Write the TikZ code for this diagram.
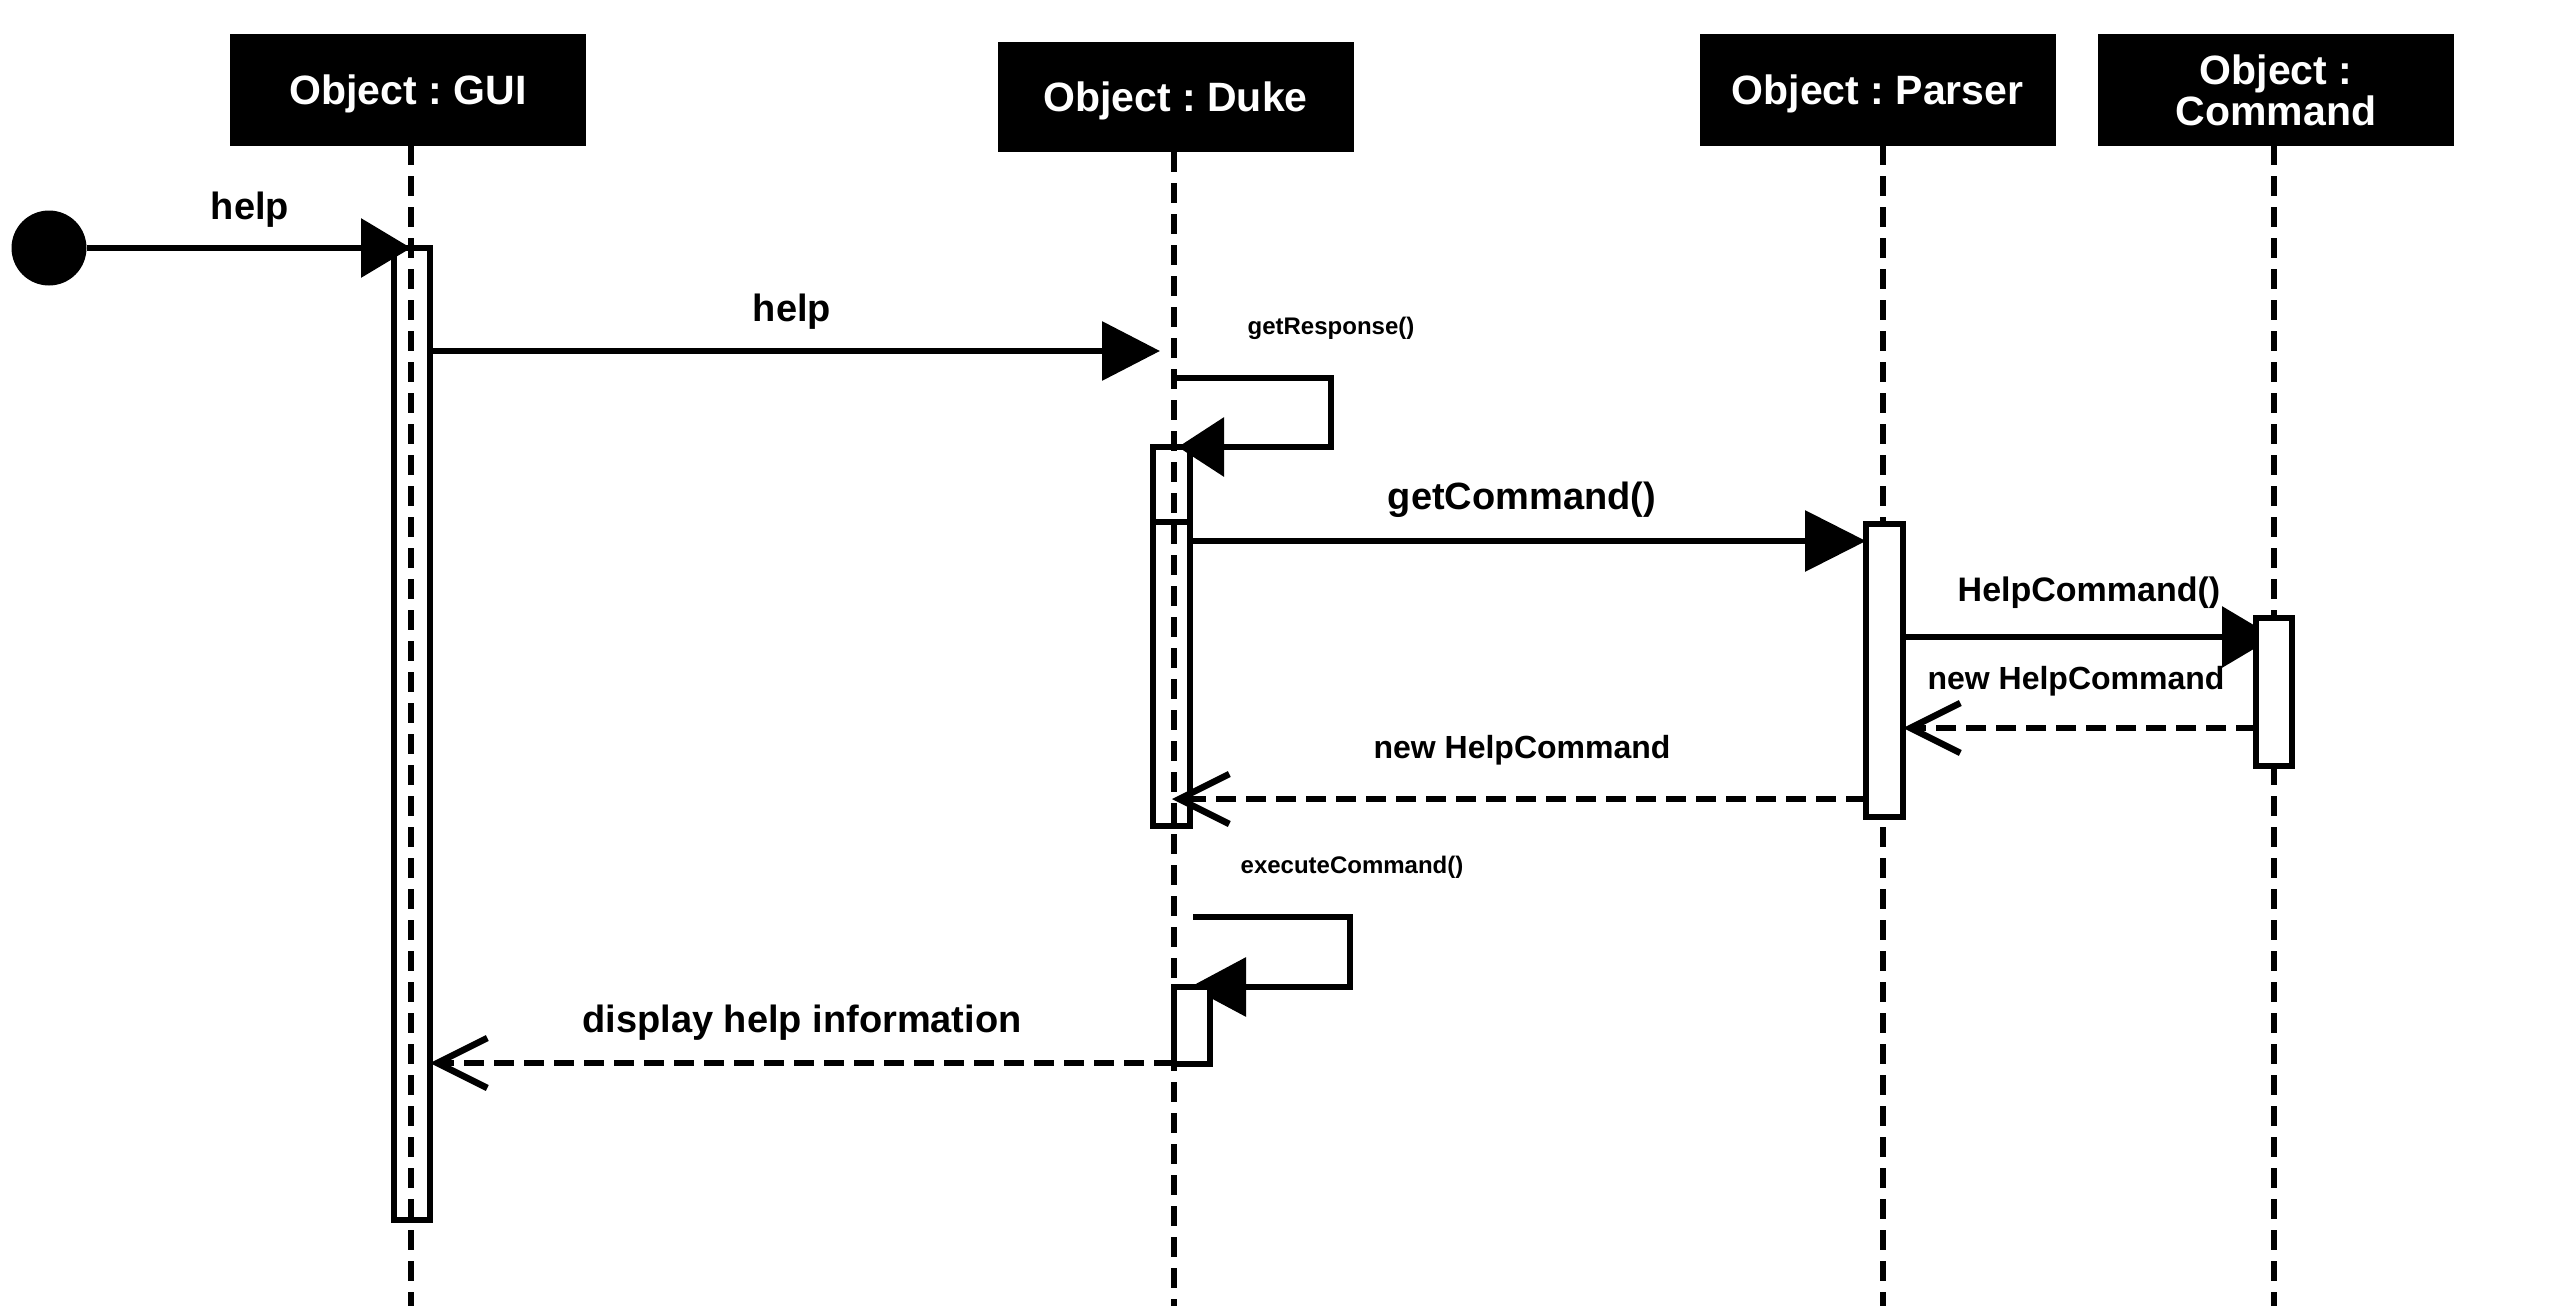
\documentclass[tikz,border=0pt]{standalone}
\usepackage{fontspec}
\setmainfont{Liberation Sans}
\usetikzlibrary{arrows.meta}
\frenchspacing
\begin{document}
\begin{tikzpicture}[x=1pt,y=-1pt,
  header/.style={fill=black, text=white, font=\fontsize{41}{42}\selectfont\bfseries, minimum width=356pt, minimum height=111pt, inner sep=0pt, align=center},
  lifeline/.style={line width=6.5pt, dash pattern=on 20pt off 11pt},
  actbox/.style={draw, line width=6.5pt, inner sep=0pt},
  actfill/.style={actbox, fill=white},
  ret/.style={line width=6.5pt, dash pattern=on 20pt off 10pt, -{Straight Barb[length=50pt,width=50pt]}},
  lbl/.style={inner sep=0pt, yshift=-3pt, font=\fontsize{38}{40}\selectfont\bfseries},
  smalllbl/.style={inner sep=0pt, yshift=-1pt, font=\fontsize{24}{26}\selectfont\bfseries},
  call/.style={line width=6.5pt},
]
\fill[white] (0,0) rectangle (2560,1306);
\useasboundingbox (0,0) rectangle (2560,1306);

% headers
\node[header] (gui) at (408,90) {};
\node[text=white, inner sep=0pt, yshift=-4pt, font=\fontsize{41}{42}\selectfont\bfseries] (guit) at (gui) {Object : GUI};
\node[header, minimum height=110pt] (duke) at (1175.5,97) {};
\node[text=white, inner sep=0pt, yshift=-4pt, font=\fontsize{41}{42}\selectfont\bfseries] (duket) at (duke) {Object : Duke};
\node[header] (parser) at (1877.5,90) {};
\node[text=white, inner sep=0pt, yshift=-4pt, font=\fontsize{41}{42}\selectfont\bfseries] (parsert) at (parser) {Object : Parser};
\node[header] (command) at (2276,90) {Object :\\[-1pt]Command};

% lifeline ends
\coordinate (guitop) at (411,145);   \coordinate (guibot) at (411,1306);
\coordinate (duketop) at (1174,152); \coordinate (dukebot) at (1174,1306);
\coordinate (partop) at (1883,145);  \coordinate (parbot) at (1883,1306);
\coordinate (cmdtop) at (2274,145);  \coordinate (cmdbot) at (2274,1306);
\draw[lifeline] (guitop) -- (guibot);
\draw[lifeline] (duketop) -- (dukebot);
\draw[lifeline] (partop) -- (parbot);
\draw[lifeline] (cmdtop) -- (cmdbot);

% transparent activations
\node[actbox, minimum width=36pt, minimum height=972pt] (guiact) at (412,734) {};
\node[actbox, minimum width=37pt, minimum height=379pt] (dukeactA) at (1171.5,636.5) {};
\node[actbox, minimum width=37pt, minimum height=304pt] (dukeactB) at (1171.5,674) {};

% initial message
\node[circle, fill=black, minimum size=75pt, inner sep=0pt] (start) at (49,248) {};
\coordinate (m1e) at (411,248);
\draw[call, -{Triangle[length=50pt,width=58pt]}] (start.east) -- (m1e);
\node[lbl] (l1) at (250,207) {help};

% help GUI -> Duke
\coordinate (m2s) at (430,351); \coordinate (m2e) at (1160,351);
\draw[call, -{Triangle[length=58pt,width=58pt]}] (m2s) -- (m2e);
\node[lbl] (l2) at (792,309) {help};

% getResponse loop
\coordinate (m3s) at (1174,378); \coordinate (m3a) at (1331,378);
\coordinate (m3b) at (1331,447); \coordinate (m3e) at (1178,447);
\draw[call, -{Triangle[length=46pt,width=58pt]}] (m3s) -- (m3a) -- (m3b) -- (m3e);
\node[smalllbl] (l3) at (1331,327) {getResponse()};

% getCommand
\coordinate (m4s) at (1190,541); \coordinate (m4e) at (1866,541);
\draw[call, -{Triangle[length=61pt,width=60pt]}] (m4s) -- (m4e);
\node[lbl] (l4) at (1522,497) {getCommand()};

% HelpCommand()
\coordinate (m5s) at (1903,637); \coordinate (m5e) at (2274,637);
\draw[call, -{Triangle[length=52pt,width=60pt]}] (m5s) -- (m5e);
\node[inner sep=0pt, yshift=-2pt, font=\fontsize{34}{36}\selectfont\bfseries] (l5) at (2089,591) {HelpCommand()};

% executeCommand loop
\coordinate (m8s) at (1193,917); \coordinate (m8a) at (1350,917);
\coordinate (m8b) at (1350,987); \coordinate (m8e) at (1190,987);
\draw[call, -{Triangle[length=56pt,width=58pt]}] (m8s) -- (m8a) -- (m8b) -- (m8e);
\node[smalllbl] (l8) at (1352,866) {executeCommand()};

% filled activations
\node[actfill, minimum width=37pt, minimum height=293pt] (paract) at (1884.5,670.5) {};
\node[actfill, minimum width=36pt, minimum height=148pt] (cmdact) at (2274,692) {};
\node[actfill, minimum width=36pt, minimum height=77pt] (dukeactC) at (1192,1025.5) {};

% returns
\coordinate (m6s) at (2256,728); \coordinate (m6e) at (1903,728);
\draw[ret] (m6s) -- (m6e);
\node[inner sep=0pt, yshift=-2pt, font=\fontsize{32}{34}\selectfont\bfseries] (l6) at (2076,679) {new HelpCommand};

\coordinate (m7s) at (1866,799); \coordinate (m7e) at (1172,799);
\draw[ret] (m7s) -- (m7e);
\node[inner sep=0pt, yshift=-2pt, font=\fontsize{32}{34}\selectfont\bfseries] (l7) at (1522,748) {new HelpCommand};

\coordinate (m9s) at (1174,1063); \coordinate (m9e) at (430,1063);
\draw[ret] (m9s) -- (m9e);
\node[lbl] (l9) at (802,1020) {display help information};
\end{tikzpicture}
\end{document}
